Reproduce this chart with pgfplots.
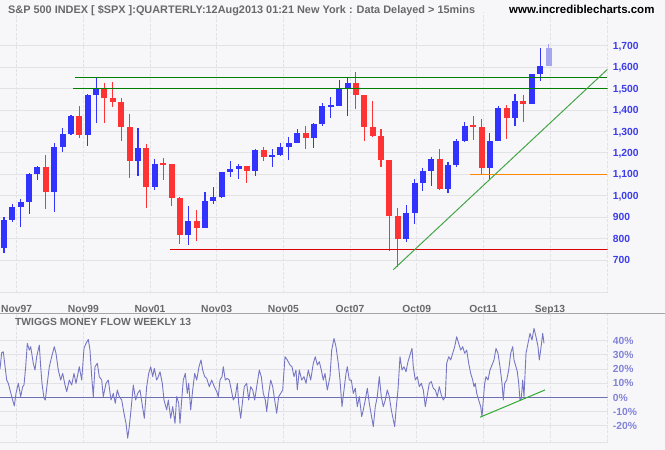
\documentclass[border=0pt]{standalone}
\usepackage{pgfplots}
\pgfplotsset{compat=1.18}
\usepackage{pgfplotstable}
\usepackage{fontspec}
\setmainfont{Liberation Sans}
\newcommand\lbl{\fontsize{10.3}{12}\selectfont\bfseries}

\definecolor{bgcol}{RGB}{247,247,250}
\definecolor{gridcol}{RGB}{226,226,231}
\definecolor{upcol}{RGB}{51,51,255}
\definecolor{dncol}{RGB}{255,51,51}
\definecolor{lastcol}{RGB}{165,165,240}
\definecolor{pricelbl}{RGB}{60,60,235}
\definecolor{tmflbl}{RGB}{130,130,215}
\definecolor{tmfcol}{RGB}{118,118,196}
\definecolor{zerocol}{RGB}{110,110,180}
\definecolor{dgreen}{RGB}{0,128,0}
\definecolor{trendgreen}{RGB}{70,165,70}
\definecolor{lowgreen}{RGB}{50,170,50}
\definecolor{lvlred}{RGB}{220,0,0}
\definecolor{lvlorange}{RGB}{255,136,0}
\definecolor{txtgray}{RGB}{105,105,105}

% quarterly S&P 500: x position, open, high, low, close
\pgfplotstableread{
x o h l c
4.0 757.1 898.7 733.5 885.1
12.4 885.1 960.3 879.7 947.3
20.8 947.3 983.1 855.3 970.4
29.1 970.4 1105.6 912.8 1101.8
37.5 1101.8 1138.5 1074.6 1133.8
54.3 1017.0 1244.9 923.3 1229.2
62.6 1229.2 1316.6 1205.5 1286.4
71.0 1286.4 1375.0 1281.4 1372.7
87.8 1282.7 1473.1 1233.7 1469.3
96.1 1469.3 1553.1 1339.4 1498.6
138.0 1160.3 1316.0 1092.0 1224.4
154.8 1040.9 1173.6 1026.8 1148.1
188.3 815.3 954.3 768.6 879.8
205.0 848.2 1015.3 847.9 974.5
213.4 974.5 1039.6 960.8 996.0
221.8 996.0 1112.0 990.4 1111.9
230.2 1111.9 1163.2 1087.2 1126.2
238.6 1126.2 1146.3 1076.3 1140.8
255.3 1114.6 1217.9 1090.2 1211.9
272.1 1180.6 1217.0 1136.2 1191.3
280.4 1191.3 1245.9 1183.6 1228.8
288.8 1228.8 1275.8 1168.2 1248.3
297.2 1248.3 1310.9 1245.7 1294.8
313.9 1270.2 1340.3 1224.5 1335.9
322.3 1335.9 1431.8 1327.1 1418.3
330.7 1418.3 1461.6 1364.0 1420.9
339.1 1420.9 1540.6 1416.4 1503.4
347.5 1503.4 1555.9 1370.6 1526.8
406.1 797.9 956.2 783.3 919.3
414.5 919.3 1080.2 869.3 1057.1
422.9 1057.1 1130.0 1020.2 1115.1
431.2 1115.1 1180.7 1044.5 1169.4
448.0 1030.7 1157.2 1010.9 1141.2
456.4 1141.2 1262.6 1131.9 1257.6
464.7 1257.6 1344.1 1249.1 1325.8
489.9 1131.4 1292.7 1074.8 1257.6
498.2 1257.6 1419.2 1257.6 1408.5
515.0 1362.2 1474.5 1325.4 1440.7
531.8 1426.2 1570.3 1426.2 1569.2
540.1 1569.2 1687.2 1536.0 1606.3
}\spxup

\pgfplotstableread{
x o h l c
45.9 1133.8 1190.6 939.0 1017.0
79.4 1372.7 1420.3 1268.4 1282.7
104.5 1498.6 1527.2 1339.4 1454.6
112.9 1454.6 1530.1 1415.7 1436.5
121.3 1436.5 1454.8 1254.1 1320.3
129.7 1320.3 1383.4 1081.2 1160.3
146.4 1224.4 1239.8 944.8 1040.9
163.2 1148.1 1177.0 1074.4 1147.4
171.5 1147.4 1150.0 952.0 989.8
179.9 989.8 994.5 775.7 815.3
196.7 879.8 935.1 788.9 848.2
246.9 1140.8 1140.8 1060.7 1114.6
263.7 1211.9 1229.1 1163.7 1180.6
305.6 1294.8 1326.7 1219.3 1270.2
355.8 1526.8 1576.1 1406.1 1468.4
364.2 1468.4 1471.8 1257.0 1322.7
372.6 1322.7 1440.2 1272.0 1280.0
381.0 1280.0 1313.2 1133.5 1166.4
389.3 1166.4 1167.0 741.0 903.3
397.7 903.3 944.3 666.8 797.9
439.6 1169.4 1219.8 1028.3 1030.7
473.1 1325.8 1370.6 1258.1 1320.6
481.5 1320.6 1356.5 1101.5 1131.4
506.6 1408.5 1422.4 1266.7 1362.2
523.4 1440.7 1471.0 1343.4 1426.2
}\spxdown

\pgfplotstableread{
x o h l c
548.5 1606.3 1709.7 1604.6 1691.4
}\spxlast

% Twiggs Money Flow (weekly, 13), in percent
\pgfplotstableread{
x v
0 20
1.7 31.5
3.3 32.2
6.7 12.2
8.3 9.9
11.7 0.5
14.3 -6.1
16 2.8
18.3 9.9
20.7 0.5
22.7 7.5
24 8.7
25.7 21.6
27.3 38.1
29.3 33.4
30.7 35.8
33.3 24.0
35 19.3
36.7 28.7
39.3 36.9
40.7 21.6
42 9.9
44 -0.7
45.3 -1.9
47.3 9.9
49.3 21.6
51.7 28.7
54.3 35.8
56 31.1
58.3 19.3
60.7 12.2
62.7 16.9
65 8.7
66.7 4.0
69.3 12.2
71.7 8.7
74 16.9
76 9.9
79.3 21.6
81.7 12.2
84 34.6
86 38.1
88.3 40.9
90 33.4
91.7 14.6
93.3 0.5
95 21.6
97.3 24.0
99.3 14.6
101.7 12.2
103.3 0.5
106 9.9
108.3 12.2
111 -1.9
113.3 2.8
115.3 -4.2
117.3 5.2
119.3 0.5
121.7 -1.9
124 -11.3
126 -18.4
127.7 -28.9
129.3 -20.7
131 -8.9
133.3 8.7
135.7 -1.9
137.7 2.8
140 5.2
142 -4.2
144.3 -14.8
146.7 7.5
148.7 16.9
150.7 21.6
152.7 14.6
154.3 20.5
156.7 12.2
158.3 14.6
160 18.1
162.3 9.9
164 -1.9
166.7 -8.9
168.3 -1.9
170.7 -14.8
172.7 -6.6
175 -18.4
176.7 0.5
178.7 -4.2
180 -18.4
181.7 -1.9
183.3 12.2
185.3 16.9
187.3 2.8
188.7 9.9
190.7 -8.9
192.7 5.2
194.7 16.9
196.7 12.2
199 21.6
201 26.4
202.7 19.3
204.7 14.6
206.7 13.4
209.3 7.5
211.7 12.2
214.3 7.5
216.7 4.0
218.3 0.5
220 12.2
222 14.6
223.3 21.6
225.3 12.2
227.3 13.4
229.3 12.2
231.3 5.2
233.3 -1.9
235.3 0.5
237.3 9.9
238.7 -4.2
240.7 -14.8
242.7 -1.9
244.3 7.5
246.7 9.9
248.7 -1.9
250.7 7.5
252.7 5.2
254.7 -1.9
256.7 7.5
259.3 19.3
261.3 14.6
263.3 2.8
265.3 -1.9
266.7 -10.1
268.7 2.8
270.7 12.2
272.7 7.5
274.7 -1.9
276.7 -11.3
278.7 0.5
280.7 2.8
282.7 5.2
285 28.7
287.3 26.4
290 22.8
292 21.6
294 14.6
296 19.3
297.3 5.2
299.3 19.3
301.7 12.2
304 14.6
306 9.9
308.3 19.3
310.7 12.2
313.3 24.0
315.3 28.7
317.3 22.8
319.3 25.2
321.3 19.3
323.3 12.2
325 16.9
327.3 5.2
330 14.6
331.7 33.4
334 41.6
336 35.8
338.3 24.0
340 12.2
342 -6.6
344 5.2
346 16.9
347.3 21.6
349.3 12.2
351.3 12.2
353.3 2.8
355.3 6.4
357.3 -6.6
359.3 0.5
361.7 -13.6
363.3 -8.9
365.3 -1.9
367.3 6.4
369.3 -4.2
371.3 -12.5
373.3 -20.7
375.3 -6.6
377.3 0.5
379.3 14.6
381.3 0.5
383.3 -6.6
385.3 -1.9
387.3 5.2
389.3 0.5
391.3 -8.9
393.3 -16.0
394.7 -20.7
396 -8.9
398 5.2
400 28.7
402 19.3
404 21.6
406 18.1
408 25.2
410 29.9
412 34.6
413.3 21.6
415.3 12.2
417.3 14.6
419.3 7.5
421.3 9.9
423.3 5.2
425.3 -6.6
427.3 1.6
429.3 9.9
431.3 11.1
433.3 6.4
435.3 5.2
437.3 0.5
439.3 7.5
441.3 1.6
443.3 -1.9
445.3 0.5
446.7 24.0
448.7 28.7
450.7 26.4
452.7 31.1
454.7 35.8
456.7 42.8
458.7 38.1
460.7 33.4
462.7 35.8
464.7 31.1
466.7 33.4
468.7 24.0
470.7 16.9
472.7 12.2
474 7.5
475.3 9.9
476.7 2.8
478.7 -1.9
480.7 -6.6
482 -13.6
483.3 -1.9
484.7 9.9
486 14.6
488 12.2
490 19.3
492 22.8
494 26.4
496 34.6
498 31.1
500 21.6
502 9.9
503.3 -1.9
504.7 9.9
506.7 12.2
508.7 19.3
510.7 31.1
512.7 35.8
514 26.4
516 21.6
517.3 18.1
518.7 9.9
520 -1.9
521.3 -0.7
522.7 12.2
524 0.5
526 31.1
528 38.1
530 45.2
532 40.5
534 48.7
536 42.8
538 35.8
539.3 26.4
540.7 33.4
542.7 45.2
544 38.1
}\tmf

\pgfplotsset{
  candle wick/.style={draw=none, mark=none,
    error bars/.cd, y dir=both, y explicit, error mark=none,
    error bar style={line width=1.1pt, line cap=butt, draw=#1, solid}},
  candle body/.style={draw=none, mark=none,
    error bars/.cd, y dir=both, y explicit, error mark=none,
    error bar style={line width=6pt, line cap=butt, draw=#1, solid}},
  panel/.style={
    scale only axis, width=607.5pt,
    xmin=0, xmax=607.5,
    axis line style={draw=none},
    xtick={16.7,83.3,150,216.7,283.3,350,416.7,483.3,550},
    grid=major,
    x grid style={gridcol, line width=0.8pt, dash pattern=on 3pt off 1.5pt},
    y grid style={gridcol, line width=0.8pt},
    tick style={draw=none},
    ytick pos=right, yticklabel pos=right,
  },
}

\begin{document}
\begin{tikzpicture}
\fill[bgcol] (0pt,0pt) rectangle (665pt,-450pt);
\useasboundingbox (0pt,0pt) rectangle (665pt,-450pt);

\begin{axis}[panel, name=top,
  at={(0pt,-12pt)}, anchor=north west, height=280.5pt,
  ymin=548.4, ymax=1857.3,
  xticklabels={Nov97,Nov99,Nov01,Nov03,Nov05,Oct07,Oct09,Oct11,Sep13},
  ytick={700,800,900,1000,1100,1200,1300,1400,1500,1600,1700},
  yticklabels={700,800,900,{1,000},{1,100},{1,200},{1,300},{1,400},{1,500},{1,600},{1,700}},
  xticklabel style={font=\lbl, text=txtgray, anchor=base, inner sep=0pt, yshift=-19.5pt},
  yticklabel style={font=\lbl, text=pricelbl, anchor=base west, inner sep=0pt, xshift=5.2pt, yshift=-3.7pt},
]
\addplot[candle wick=upcol] table[x=x, y expr=(\thisrow{h}+\thisrow{l})/2, y error expr=(\thisrow{h}-\thisrow{l})/2] {\spxup};
\addplot[candle body=upcol] table[x=x, y expr=(\thisrow{o}+\thisrow{c})/2, y error expr={max(abs(\thisrow{c}-\thisrow{o})/2,4.5)}] {\spxup};
\addplot[candle wick=dncol] table[x=x, y expr=(\thisrow{h}+\thisrow{l})/2, y error expr=(\thisrow{h}-\thisrow{l})/2] {\spxdown};
\addplot[candle body=dncol] table[x=x, y expr=(\thisrow{o}+\thisrow{c})/2, y error expr={max(abs(\thisrow{c}-\thisrow{o})/2,4.5)}] {\spxdown};
\addplot[candle wick=lastcol] table[x=x, y expr=(\thisrow{h}+\thisrow{l})/2, y error expr=(\thisrow{h}-\thisrow{l})/2] {\spxlast};
\addplot[candle body=lastcol] table[x=x, y expr=(\thisrow{o}+\thisrow{c})/2, y error expr={max(abs(\thisrow{c}-\thisrow{o})/2,4.5)}] {\spxlast};
% support / resistance lines
\addplot[dgreen, line width=1.3pt] coordinates {(75,1552) (607.5,1552)};
\addplot[dgreen, line width=1.3pt] coordinates {(73.3,1500) (607.5,1500)};
\addplot[lvlred, line width=1.1pt] coordinates {(170,750) (607.5,750)};
\addplot[lvlorange, line width=1.1pt] coordinates {(470,1100) (607.5,1100)};
\addplot[trendgreen, line width=1pt] coordinates {(393.3,655) (607.5,1590)};
\end{axis}
\draw[gridcol, line width=0.8pt] (top.south west) -- (top.south east);
\draw[gridcol, line width=0.8pt, dash pattern=on 3pt off 1.5pt] (top.north east) -- (top.south east);

\begin{axis}[panel, name=bot,
  at={(0pt,-313.3pt)}, anchor=north west, height=129.4pt,
  ymin=-32.1, ymax=59.4,
  xticklabels={},
  ytick={-20,-10,0,10,20,30,40},
  yticklabels={-20\%,-10\%,0\%,10\%,20\%,30\%,40\%},
  yticklabel style={font=\lbl, text=tmflbl, anchor=base west, inner sep=0pt, xshift=5.2pt, yshift=-3.7pt},
]
\addplot[zerocol, line width=1pt] coordinates {(0,0) (607.5,0)};
\addplot[tmfcol, line width=0.9pt, line join=round] table[x=x, y=v] {\tmf};
\addplot[lowgreen, line width=1pt] coordinates {(480,-14.1) (545,5.2)};
\end{axis}
\draw[gridcol, line width=0.8pt] (bot.south west) -- (bot.south east);
\draw[gridcol, line width=0.8pt, dash pattern=on 3pt off 1.5pt] (bot.north east) -- (bot.south east);
\draw[black!35, line width=1.4pt] (0pt,-313.3pt) -- (665pt,-313.3pt);

\node[anchor=base west, inner sep=0pt, text=txtgray, font=\fontsize{10.3}{12}\selectfont\bfseries] at (15pt,-325pt) {TWIGGS MONEY FLOW WEEKLY 13};
\node[anchor=base west, inner sep=0pt, text=txtgray, font=\fontsize{10.9}{12}\selectfont\bfseries] at (8pt,-13.3pt) {S\&P 500 INDEX [ \$SPX ]:QUARTERLY:12Aug2013 01:21 New York : Data Delayed > 15mins};
\node[anchor=base west, inner sep=0pt, text=black, font=\fontsize{11.5}{12}\selectfont\bfseries] at (509pt,-13.3pt) {www.incrediblecharts.com};
\end{tikzpicture}
\end{document}
